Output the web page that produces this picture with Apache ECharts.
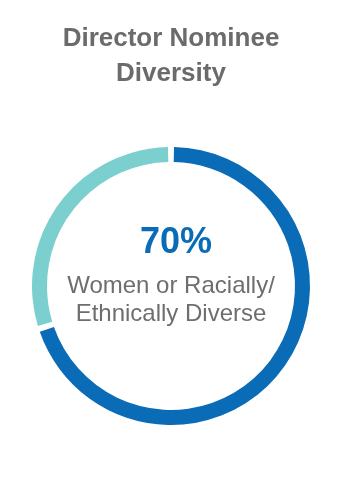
<!DOCTYPE html>
<html>
<head>
<meta charset="utf-8">
<style>html,body{margin:0;padding:0;background:#fff;}#chart{width:342px;height:480px;}</style>
<script src="https://cdn.jsdelivr.net/npm/echarts@6/dist/echarts.min.js"></script>
</head>
<body>
<div id="chart"></div>
<script>
var titleText = 'Director Nominee\nDiversity';
var categories = ['Women or Racially/Ethnically Diverse', 'Other'];
var values = [70, 30];
var centerValue = '70%';
var centerCaption = 'Women or Racially/\nEthnically Diverse';
var colors = ['#0a6bb6', '#7bcfcf'];

var chart = echarts.init(document.getElementById('chart'), null, {renderer: 'canvas'});
chart.setOption({
  animation: false,
  title: {
    text: titleText,
    left: 'center',
    top: 21,
    padding: 0,
    textStyle: {
      fontFamily: 'Liberation Sans, Arial, sans-serif',
      fontSize: 26,
      fontWeight: 'bold',
      color: '#6b6b6b',
      lineHeight: 35
    }
  },
  series: [{
    type: 'pie',
    center: [171, 286],
    radius: [124, 139],
    startAngle: 90,
    clockwise: true,
    padAngle: 2.5,
    silent: true,
    labelLine: {show: false},
    data: categories.map(function (c, i) {
      return {
        name: c,
        value: values[i],
        itemStyle: {color: colors[i]},
        label: i === 0 ? {
          show: true,
          position: 'center',
          formatter: '{a|' + centerValue + '}\n{b|' + centerCaption.split('\n')[0] + '}\n{b|' + centerCaption.split('\n')[1] + '}',
          padding: [0, 0, 29, 0],
          rich: {
            a: {fontFamily: 'Liberation Sans, Arial, sans-serif', fontSize: 36, fontWeight: 'bold', color: '#0a6bb6', lineHeight: 58, padding: [0, 0, 0, 10]},
            b: {fontFamily: 'Liberation Sans, Arial, sans-serif', fontSize: 24, color: '#6e6e6e', lineHeight: 28}
          }
        } : {show: false}
      };
    })
  }]
});
</script>
</body>
</html>
